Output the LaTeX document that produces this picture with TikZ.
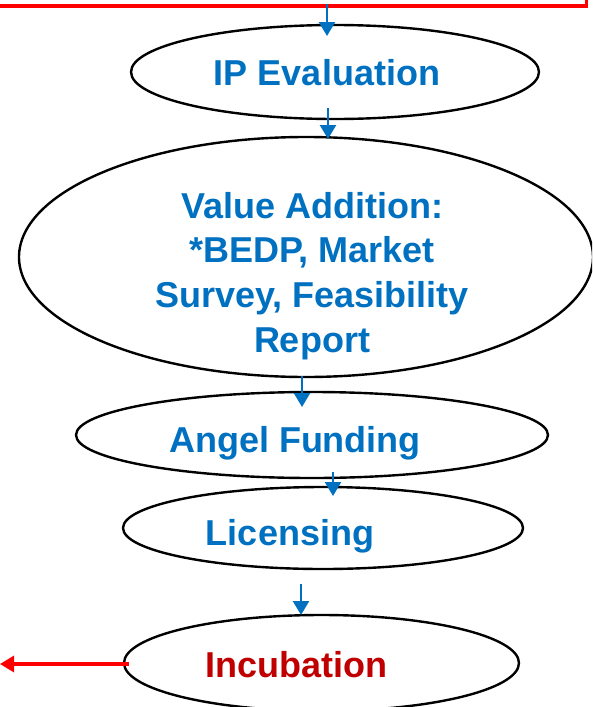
\documentclass[tikz,border=0pt]{standalone}
\usepackage{fontspec}
\setmainfont{Liberation Sans}
\usetikzlibrary{shapes.geometric,arrows.meta}
\definecolor{flowblue}{HTML}{0070C0}
\definecolor{incred}{HTML}{C00000}
\definecolor{boxred}{HTML}{FF0000}
\tikzset{
  stage/.style={draw=black, line width=2.4pt, ellipse, inner sep=0pt},
  stagetext/.style={font=\bfseries\fontsize{36}{44.7}\selectfont, text=flowblue, inner sep=0pt, align=center},
  flow/.style={draw=flowblue, line width=2.4pt, -{Triangle[length=14pt,width=16pt]}},
  outflow/.style={draw=boxred, line width=3.2pt, -{Triangle[length=14pt,width=16pt]}}
}
\begin{document}
\begin{tikzpicture}[x=1pt,y=-1pt]
\clip (0,0) rectangle (592,707);
\useasboundingbox (0,0) rectangle (592,707);
% red box (upper stage, mostly outside the picture)
\node[draw=boxred, line width=3.5pt, rectangle, minimum width=640pt, minimum height=100pt, inner sep=0pt, anchor=south east] (box) at (588,7.5) {};
% stages
\node[stage, minimum width=408pt, minimum height=94pt] (e1) at (335,72) {};
\node[stagetext, anchor=base] (t1) at (327,85) {IP Evaluation};
\node[stage, minimum width=574pt, minimum height=240pt] (e2) at (306,257) {};
\node[stagetext, anchor=center] (t2) at (312,276) {Value Addition:\\*BEDP, Market\\Survey, Feasibility\\Report};
\node[stage, minimum width=472pt, minimum height=86pt] (e3) at (312,435) {};
\node[stagetext, anchor=base] (t3) at (295,452) {Angel Funding};
\node[stage, minimum width=400pt, minimum height=82pt] (e4) at (323,528) {};
\node[stagetext, anchor=base] (t4) at (290,545) {Licensing};
\node[stage, minimum width=395pt, minimum height=96pt] (e5) at (321.5,663) {};
\node[stagetext, anchor=base, text=incred] (t5) at (296,677) {Incubation};
% connector end points
\coordinate (a1s) at (327,4);   \coordinate (a1e) at (327,36);
\coordinate (a2s) at (328,108); \coordinate (a2e) at (328,139);
\coordinate (a3s) at (302,376); \coordinate (a3e) at (302,407);
\coordinate (a4s) at (333,472); \coordinate (a4e) at (333,496);
\coordinate (a5s) at (301,584); \coordinate (a5e) at (301,615);
\coordinate (out) at (0,664);
% connectors
\draw[flow] (a1s) -- (a1e);
\draw[flow] (a2s) -- (a2e);
\draw[flow] (a3s) -- (a3e);
\draw[flow] (a4s) -- (a4e);
\draw[flow] (a5s) -- (a5e);
\draw[outflow] ([xshift=6pt]e5.west |- out) -- (out);
\end{tikzpicture}
\end{document}
